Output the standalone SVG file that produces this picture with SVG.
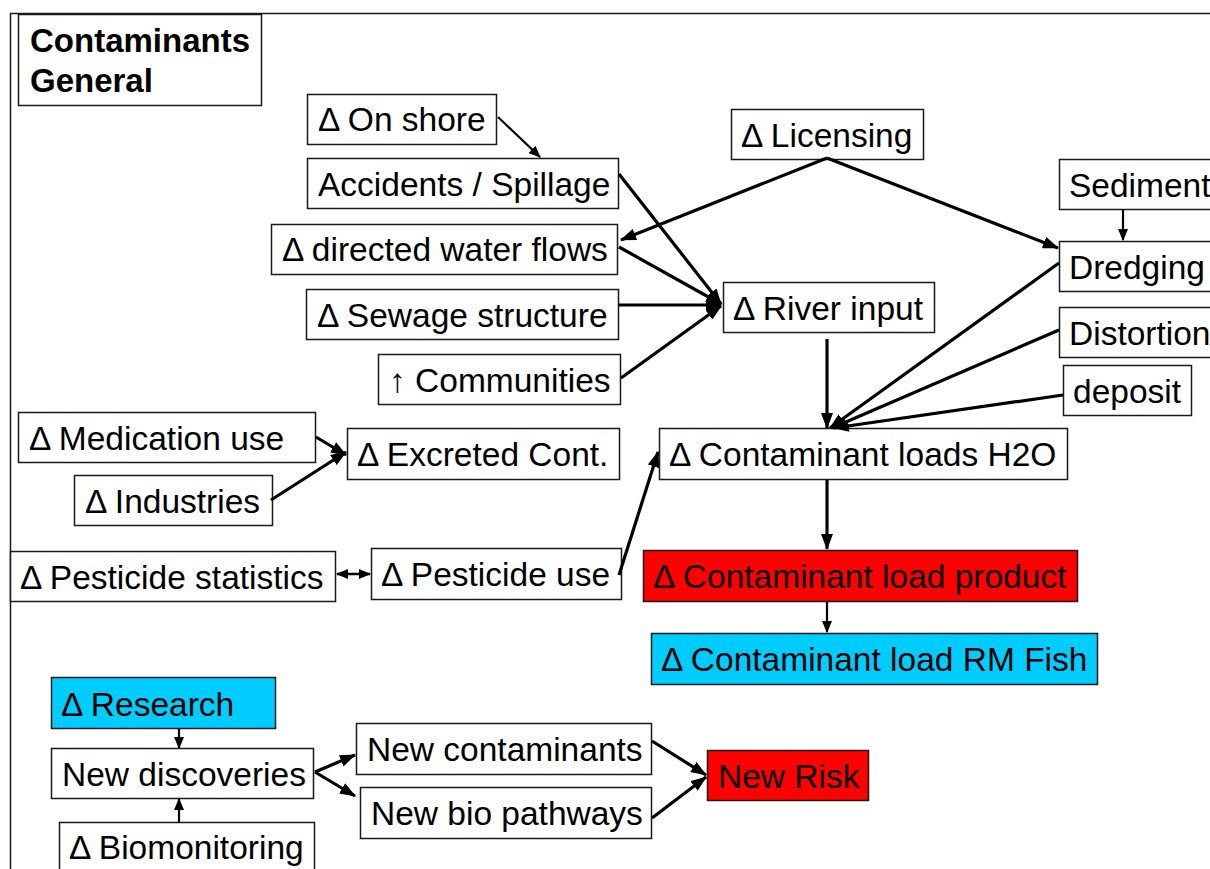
<svg xmlns="http://www.w3.org/2000/svg" width="1210" height="869" viewBox="0 0 1210 869">
  <style>
    .box { fill: #ffffff; stroke: #1a1a1a; stroke-width: 1.5; }
    .red { fill: #ff0000; }
    .cyan { fill: #00ccff; }
    .lbl { font-family: "Liberation Sans", Arial, sans-serif; font-size: 33.5px; fill: #000000; }
    .ttl { font-family: "Liberation Sans", Arial, sans-serif; font-size: 33px; font-weight: bold; fill: #000000; }
    .frame { stroke: #1a1a1a; stroke-width: 1.5; fill: none; }
    .edge { stroke: #000000; stroke-width: 3.2; fill: none; marker-end: url(#arrow); }
    .edge-s { stroke: #000000; stroke-width: 2.2; fill: none; marker-end: url(#arrow-s); }
    .edge-d { stroke: #000000; stroke-width: 2.5; fill: none; marker-start: url(#arrow-s); marker-end: url(#arrow-s); }
  </style>
  <defs>
    <marker id="arrow" markerUnits="userSpaceOnUse" markerWidth="16" markerHeight="12" refX="15" refY="6" orient="auto-start-reverse">
      <path d="M0,0 L16,6 L0,12 z" fill="#000000"/>
    </marker>
    <marker id="arrow-s" markerUnits="userSpaceOnUse" markerWidth="12" markerHeight="10" refX="11" refY="5" orient="auto-start-reverse">
      <path d="M0,0 L12,5 L0,10 z" fill="#000000"/>
    </marker>
  </defs>

  <rect width="1210" height="869" fill="#ffffff"/>

  <!-- page frame (top and left edges) -->
  <path class="frame" d="M10.5,869 L10.5,13.5 L1210,13.5"/>

  <!-- heading -->
  <g id="title">
    <rect class="box" x="18.5" y="14.5" width="243" height="91"/>
    <text class="ttl" x="30" y="52">Contaminants</text>
    <text class="ttl" x="30" y="92">General</text>
  </g>

  <!-- nodes -->
  <g id="on-shore">
    <rect class="box" x="307.5" y="94.5" width="189" height="50"/>
    <text class="lbl" x="318" y="131">Δ On shore</text>
  </g>
  <g id="accidents">
    <rect class="box" x="307.5" y="158.5" width="311" height="50"/>
    <text class="lbl" x="318" y="196">Accidents / Spillage</text>
  </g>
  <g id="water-flows">
    <rect class="box" x="271.5" y="224.5" width="346" height="50"/>
    <text class="lbl" x="282" y="261">Δ directed water flows</text>
  </g>
  <g id="sewage">
    <rect class="box" x="306.5" y="289.5" width="312" height="50"/>
    <text class="lbl" x="317" y="327">Δ Sewage structure</text>
  </g>
  <g id="communities">
    <rect class="box" x="378.5" y="354.5" width="242" height="50"/>
    <text class="lbl" x="389" y="392">↑ Communities</text>
  </g>
  <g id="licensing">
    <rect class="box" x="731.5" y="109.5" width="192" height="50"/>
    <text class="lbl" x="741" y="147">Δ Licensing</text>
  </g>
  <g id="sediment">
    <rect class="box" x="1059.5" y="159.5" width="180" height="50"/>
    <text class="lbl" x="1069" y="197">Sediment</text>
  </g>
  <g id="dredging">
    <rect class="box" x="1059.5" y="241.5" width="180" height="50"/>
    <text class="lbl" x="1069" y="279">Dredging</text>
  </g>
  <g id="river-input">
    <rect class="box" x="723.5" y="282.5" width="211" height="50"/>
    <text class="lbl" x="733" y="320">Δ River input</text>
  </g>
  <g id="distortion">
    <rect class="box" x="1059.5" y="307.5" width="180" height="50"/>
    <text class="lbl" x="1069" y="345">Distortion</text>
  </g>
  <g id="deposit">
    <rect class="box" x="1063.5" y="365.5" width="128" height="50"/>
    <text class="lbl" x="1073" y="403">deposit</text>
  </g>
  <g id="loads-h2o">
    <rect class="box" x="659.5" y="428.5" width="408" height="51"/>
    <text class="lbl" x="669" y="466">Δ Contaminant loads H2O</text>
  </g>
  <g id="medication">
    <rect class="box" x="18.5" y="412.5" width="297" height="50"/>
    <text class="lbl" x="29" y="450">Δ Medication use</text>
  </g>
  <g id="excreted">
    <rect class="box" x="347.5" y="428.5" width="272" height="51"/>
    <text class="lbl" x="357" y="466">Δ Excreted Cont.</text>
  </g>
  <g id="industries">
    <rect class="box" x="74.5" y="475.5" width="198" height="50"/>
    <text class="lbl" x="85" y="513">Δ Industries</text>
  </g>
  <g id="pesticide-stats">
    <rect class="box" x="10.5" y="551.5" width="325" height="50"/>
    <text class="lbl" x="20" y="589">Δ Pesticide statistics</text>
  </g>
  <g id="pesticide-use">
    <rect class="box" x="371.5" y="548.5" width="250" height="51"/>
    <text class="lbl" x="381" y="586">Δ Pesticide use</text>
  </g>
  <g id="load-product">
    <rect class="box red" x="643.5" y="550.5" width="434" height="51"/>
    <text class="lbl" x="653" y="588">Δ Contaminant load product</text>
  </g>
  <g id="load-fish">
    <rect class="box cyan" x="651.5" y="633.5" width="446" height="51"/>
    <text class="lbl" x="661" y="671">Δ Contaminant load RM Fish</text>
  </g>
  <g id="research">
    <rect class="box cyan" x="51.5" y="677.5" width="224" height="51"/>
    <text class="lbl" x="61" y="716">Δ Research</text>
  </g>
  <g id="discoveries">
    <rect class="box" x="51.5" y="748.5" width="262" height="50"/>
    <text class="lbl" x="62" y="786">New discoveries</text>
  </g>
  <g id="biomonitoring">
    <rect class="box" x="59.5" y="822.5" width="255" height="60"/>
    <text class="lbl" x="69" y="859">Δ Biomonitoring</text>
  </g>
  <g id="new-contaminants">
    <rect class="box" x="356.5" y="723.5" width="295" height="51"/>
    <text class="lbl" x="367" y="761">New contaminants</text>
  </g>
  <g id="new-pathways">
    <rect class="box" x="360.5" y="787.5" width="291" height="51"/>
    <text class="lbl" x="371" y="825">New bio pathways</text>
  </g>
  <g id="new-risk">
    <rect class="box red" x="707.5" y="750.5" width="161" height="50"/>
    <text class="lbl" x="718" y="788">New Risk</text>
  </g>

  <!-- connectors -->
  <g id="connectors">
    <path class="edge-s" d="M498,117 L540,157"/>
    <path class="edge" d="M619,174 L721,304"/>
    <path class="edge" d="M619,247 L721,304"/>
    <path class="edge" d="M619,305 L721,305"/>
    <path class="edge" d="M621,378 L721,306"/>
    <path class="edge" d="M827,158 L621,240"/>
    <path class="edge" d="M827,158 L1058,248"/>
    <path class="edge-s" d="M1123,210 L1123,240"/>
    <path class="edge" d="M827,339 L827,428"/>
    <path class="edge" d="M1059,263 L830,428"/>
    <path class="edge" d="M1059,330 L832,428"/>
    <path class="edge" d="M1063,395 L834,428"/>
    <path class="edge" d="M316,437 L346,455"/>
    <path class="edge" d="M271,500 L346,452"/>
    <path class="edge-d" d="M337,574 L370,574"/>
    <path class="edge" d="M619,575 L658,452"/>
    <path class="edge" d="M827,480 L827,549"/>
    <path class="edge-s" d="M827,601 L827,632"/>
    <path class="edge-s" d="M179,729 L179,748"/>
    <path class="edge-s" d="M179,822 L179,799"/>
    <path class="edge" d="M315,772 L355,755"/>
    <path class="edge" d="M315,772 L355,796"/>
    <path class="edge" d="M652,741 L706,775"/>
    <path class="edge" d="M652,818 L706,777"/>
  </g>
</svg>
